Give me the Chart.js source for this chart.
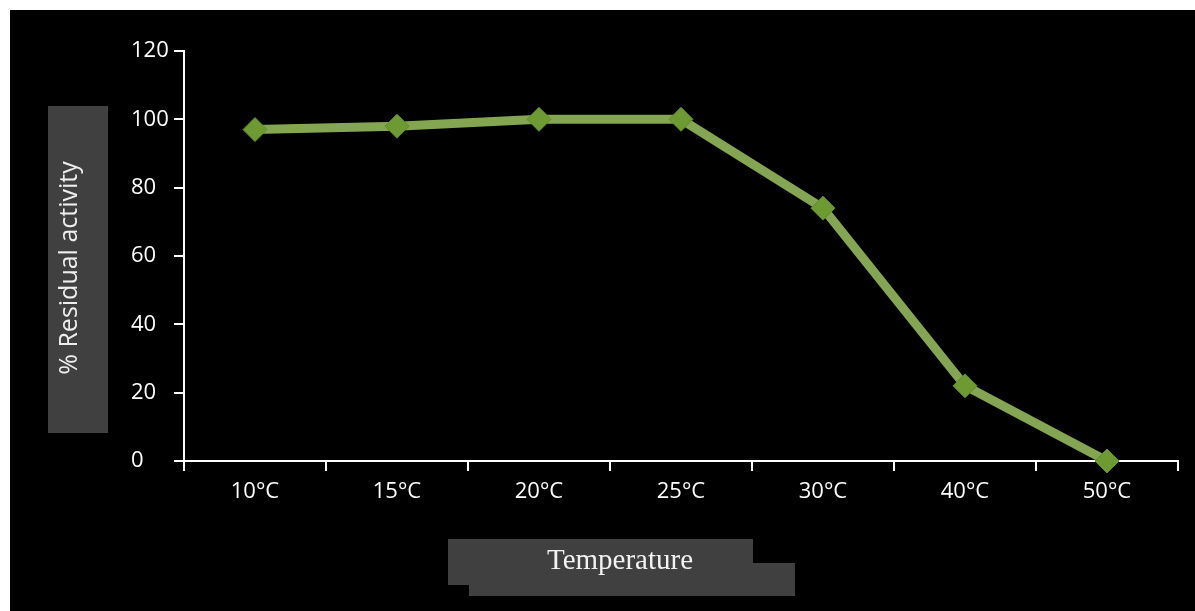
<!DOCTYPE html>
<html>
<head>
<meta charset="utf-8">
<script src="https://cdn.jsdelivr.net/npm/chart.js@4.4.1/dist/chart.umd.min.js"></script>
<style>
  html, body { margin: 0; padding: 0; background: #ffffff; }
  #wrap { width: 1195px; height: 611px; position: relative; }
</style>
</head>
<body>
<div id="wrap"><canvas id="chart" width="1195" height="611"></canvas></div>
<script>
// Residual enzyme activity after incubation at each temperature
const categories = ['10°C', '15°C', '20°C', '25°C', '30°C', '40°C', '50°C'];
const residualActivity = [97, 98, 100, 100, 74, 22, 0];
const yTickValues = [0, 20, 40, 60, 80, 100, 120];
const yTitle = '% Residual activity';
const xTitle = 'Temperature';

// Page frame: thin white margin, black panel, and the grey boxes with axis titles
const framePlugin = {
  id: 'frame',
  beforeDraw(chart) {
    const ctx = chart.ctx;
    ctx.save();
    ctx.fillStyle = '#ffffff';
    ctx.fillRect(0, 0, chart.width, chart.height);
    ctx.fillStyle = '#000000';
    ctx.fillRect(10, 10, chart.width - 10, chart.height - 10);

    ctx.fillStyle = '#404040';
    // vertical title box
    ctx.fillRect(48, 106, 60, 327);
    // horizontal title boxes
    ctx.fillRect(448, 539, 305, 46);
    ctx.fillRect(469, 563, 326, 33);

    // y title
    ctx.fillStyle = '#eeeeee';
    ctx.font = '25px "Open Sans"';
    ctx.textAlign = 'center';
    ctx.textBaseline = 'middle';
    ctx.translate(70, 268);
    ctx.rotate(-Math.PI / 2);
    ctx.fillText(yTitle, 0, 0);
    ctx.setTransform(1, 0, 0, 1, 0, 0);

    // x title
    ctx.fillStyle = '#f2f2f2';
    ctx.font = '29px "Liberation Serif"';
    ctx.textAlign = 'center';
    ctx.textBaseline = 'alphabetic';
    ctx.fillText(xTitle, 620, 569);
    ctx.restore();
  }
};

const tickFont = { family: '"Open Sans"', size: 22 };

new Chart(document.getElementById('chart'), {
  type: 'line',
  data: {
    labels: categories,
    datasets: [{
      data: residualActivity,
      clip: false,
      borderColor: '#84a551',
      borderWidth: 9,
      pointStyle: 'rectRot',
      pointRadius: 12,
      pointHoverRadius: 12,
      pointBackgroundColor: '#6e9a32',
      pointBorderColor: '#628c2a',
      pointBorderWidth: 1,
      tension: 0,
      fill: false
    }]
  },
  options: {
    responsive: false,
    animation: false,
    events: [],
    layout: { padding: { left: 131, top: 51, right: 17, bottom: 0 } },
    plugins: { legend: { display: false }, tooltip: { enabled: false } },
    scales: {
      x: {
        type: 'category',
        offset: true,
        grid: { offset: true, drawOnChartArea: false, tickLength: 10, color: '#ffffff', lineWidth: 2 },
        border: { display: true, color: '#ffffff', width: 2 },
        ticks: { color: '#ffffff', font: tickFont, padding: 8, maxRotation: 0, autoSkip: false },
        afterFit(scale) { scale.height = 150; }
      },
      y: {
        min: 0,
        max: 120,
        afterBuildTicks(scale) { scale.ticks = yTickValues.map(v => ({ value: v })); },
        grid: { drawOnChartArea: false, tickLength: 10, color: '#ffffff', lineWidth: 2 },
        border: { display: true, color: '#ffffff', width: 2 },
        ticks: { color: '#ffffff', font: tickFont, crossAlign: 'far', padding: 6 },
        afterFit(scale) { scale.width = 53; }
      }
    }
  },
  plugins: [framePlugin]
});
</script>
</body>
</html>
